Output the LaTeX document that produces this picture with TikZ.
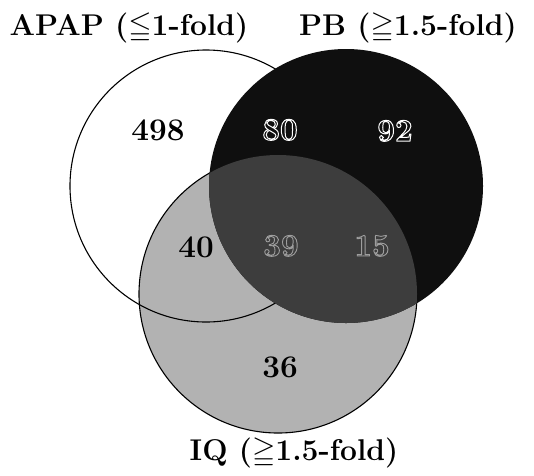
\documentclass[tikz,border=0pt]{standalone}
\usepackage{amssymb}
\definecolor{pbblack}{gray}{0.06}
\definecolor{pbiqgray}{gray}{0.24}
\definecolor{iqgray}{gray}{0.70}
% digits filled in the current colour and stroked round their outline
% (#1 = stroke grey level, #2 = line width, #3 = text)
\newcommand\rimmed[3]{%
  \special{pdf:code q #1 G #2 w 2 Tr}#3\special{pdf:code Q}}
\begin{document}
\begin{tikzpicture}[x=1pt,y=-1pt,
  setlabel/.style={font=\fontsize{30}{33}\selectfont\bfseries, anchor=base, inner sep=0pt},
  count/.style={font=\fontsize{31.5}{34}\selectfont\bfseries, anchor=base, inner sep=0pt},
  setedge/.style={draw=black, line width=1.1pt}]
\useasboundingbox (0,0) rectangle (534,475);
\fill[white] (0,0) rectangle (534,475);

% circle centres
\coordinate (apapC) at (206,186);
\coordinate (pbC) at (346,186);
\coordinate (iqC) at (278,294);

% IQ set (grey) with the APAP outline over it
\fill[iqgray] (iqC) circle (139);
\draw[setedge] (apapC) circle (136);
\draw[setedge] (iqC) circle (139);

% PB set (black), lighter where it meets IQ
\fill[pbblack] (pbC) circle (137);
\begin{scope}
  \clip (iqC) circle (139);
  \fill[pbiqgray] (pbC) circle (137);
\end{scope}

% set labels
\node[setlabel] (apapL) at (129,35) {APAP ($\leqq$1-fold)};
\node[setlabel] (pbL) at (408,35) {PB ($\geqq$1.5-fold)};
\node[setlabel] (iqL) at (294,460) {IQ ($\geqq$1.5-fold)};

% region counts
\node[count] (n498) at (158,140) {498};
\node[count,text=pbblack] (n80) at (280,140) {\rimmed{1}{1}{80}};
\node[count,text=pbblack] (n92) at (395,141) {\rimmed{1}{1}{92}};
\node[count] (n40) at (196,257) {40};
\node[count,text=pbiqgray] (n39) at (281,256) {\rimmed{0.62}{0.9}{39}};
\node[count,text=pbiqgray] (n15) at (372,256) {\rimmed{0.62}{0.9}{15}};
\node[count] (n36) at (280,377) {36};
\end{tikzpicture}
\end{document}
